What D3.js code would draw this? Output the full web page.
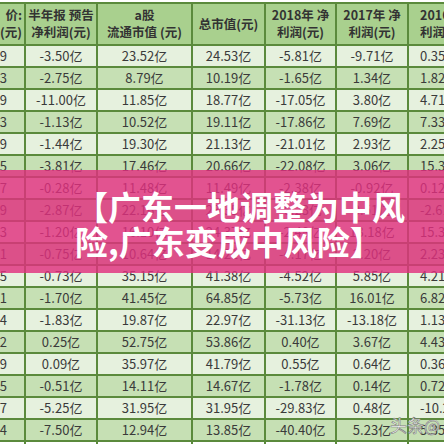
<!DOCTYPE html>
<html><head><meta charset="utf-8">
<script src="https://cdn.jsdelivr.net/npm/d3@7.9.0/dist/d3.min.js"></script>
<style>body{margin:0;background:#fff}svg{display:block}</style>
</head><body><svg width="444" height="444"></svg>
<script>
// column headers (two lines each)
const headers = [["价:", "(元)"], ["半年报 预告", "净利润(元)"], ["a股", "流通市值 (元)"], ["总市值(元)", ""], ["2018年 净", "利润(元)"], ["2017年 净", "利润(元)"], ["2016年 净", "利润(元)"]];
const price = ["5.29", "3.03", "4.39", "2.63", "3.09", "4.35", "2.77", "3.69", "4.13", "2.51", "6.15", "7.71", "3.24", "5.12", "4.09", "2.75", "3.17", "2.24"];
const halfYear = ["-3.50亿", "-2.75亿", "-11.00亿", "-1.13亿", "-1.44亿", "-3.81亿", "-0.28亿", "-2.87亿", "-1.20亿", "-0.75亿", "-0.73亿", "-1.70亿", "-1.83亿", "0.25亿", "0.09亿", "-0.51亿", "-5.25亿", "-7.50亿"];
const floatCap = ["23.52亿", "8.79亿", "11.85亿", "10.52亿", "19.30亿", "17.46亿", "11.48亿", "22.16亿", "16.10亿", "10.64亿", "35.15亿", "41.45亿", "19.87亿", "52.75亿", "35.97亿", "14.11亿", "31.95亿", "12.94亿"];
const totalCap = ["24.53亿", "10.19亿", "18.77亿", "19.11亿", "21.13亿", "20.66亿", "11.49亿", "23.35亿", "24.37亿", "14.21亿", "41.38亿", "64.85亿", "22.97亿", "53.86亿", "41.79亿", "14.67亿", "31.95亿", "13.85亿"];
const net2018 = ["-5.81亿", "-1.65亿", "-17.05亿", "-17.86亿", "-21.01亿", "-22.08亿", "-2.38亿", "-6.23亿", "-2.48亿", "-4.17亿", "-4.52亿", "-5.73亿", "-31.13亿", "0.40亿", "0.55亿", "-1.78亿", "-29.83亿", "-40.40亿"];
const net2017 = ["-9.71亿", "1.34亿", "3.80亿", "7.69亿", "2.93亿", "3.06亿", "-0.92亿", "0.51亿", "13.18亿", "2.20亿", "5.85亿", "16.01亿", "-13.18亿", "3.67亿", "0.64亿", "0.14亿", "0.48亿", "5.23亿"];
const net2016 = ["0.35亿", "1.82亿", "4.71亿", "7.33亿", "2.25亿", "15.33亿", "0.12亿", "-2.61亿", "15.31亿", "2.23亿", "4.21亿", "6.82亿", "1.13亿", "4.43亿", "0.36亿", "0.72亿", "-10.21亿", "5.35亿"];
const columns = [price, halfYear, floatCap, totalCap, net2018, net2017, net2016];
const colEdges = [-30, 25, 97, 192, 265, 336, 408, 480];
const bannerLines = ["【广东一地调整为中风", "险,广东变成中风险】"];

const svg = d3.select("svg");
const rows = d3.range(halfYear.length);
const y = d3.scaleBand().domain(rows).range([45, 45 + 22 * rows.length]);
const lineCol = "#5b8a3c";

svg.append("defs").append("clipPath").attr("id", "clipAll")
  .append("rect").attr("width", 444).attr("height", 444);
const g = svg.append("g").attr("clip-path", "url(#clipAll)");

// header
g.append("rect").attr("x", 0).attr("y", 3).attr("width", 444).attr("height", 42).attr("fill", "#a9d08e");
rows.forEach(r => {
  g.append("rect").attr("x", 0).attr("y", y(r)).attr("width", 444).attr("height", y.bandwidth())
    .attr("fill", r % 2 === 0 ? "#e6f1de" : "#c6e0b4");
});

columns.forEach((col, c) => {
  const x0 = colEdges[c], x1 = colEdges[c + 1], cx = (x0 + x1) / 2;
  // first column is right-aligned and last one left-aligned, so they are cut by the edges
  const anchor = c === 0 ? "end" : c === 6 ? "start" : "middle";
  headers[c].forEach((h, i) => {
    g.append("text").attr("x", c === 0 ? 22 : c === 6 ? 420 : cx).attr("y", headers[c][1] === "" ? 29 : 20 + i * 17)
      .attr("text-anchor", anchor).attr("font-size", 12.5).attr("font-weight", "bold")
      .attr("font-family", "Noto Sans CJK SC").attr("fill", "#333").text(h);
  });
  col.forEach((v, r) => {
    g.append("text").attr("x", c === 0 ? 7 : c === 6 ? 420 : cx).attr("y", y(r) + 16)
      .attr("text-anchor", anchor).attr("font-size", 13)
      .attr("font-family", "Noto Sans CJK SC").attr("fill", "#3a3a3a").text(v);
  });
});

// grid
colEdges.forEach(x => g.append("line").attr("x1", x).attr("x2", x).attr("y1", 3).attr("y2", 444)
  .attr("stroke", lineCol).attr("stroke-width", 2));
[3, ...rows.map(r => y(r)), y.range()[1]].forEach(yy => g.append("line").attr("x1", 0).attr("x2", 444)
  .attr("y1", yy).attr("y2", yy).attr("stroke", lineCol).attr("stroke-width", 2));

// banner
g.append("rect").attr("x", 0).attr("y", 170).attr("width", 444).attr("height", 103)
  .attr("fill", "#e0307f").attr("opacity", 0.82);
bannerLines.forEach((t, i) => {
  g.append("text").attr("x", 75).attr("y", 220 + i * 35).attr("font-size", 33)
    .attr("font-weight", "bold").attr("font-family", "Noto Sans CJK SC").attr("fill", "#fff").text(t);
});

// watermark
g.append("text").attr("x", 390).attr("y", 432).attr("font-size", 17)
  .attr("font-family", "Noto Sans CJK SC").attr("fill", "#fff").attr("stroke", "#777").attr("stroke-width", 0.6).text("头条@");
</script></body></html>
